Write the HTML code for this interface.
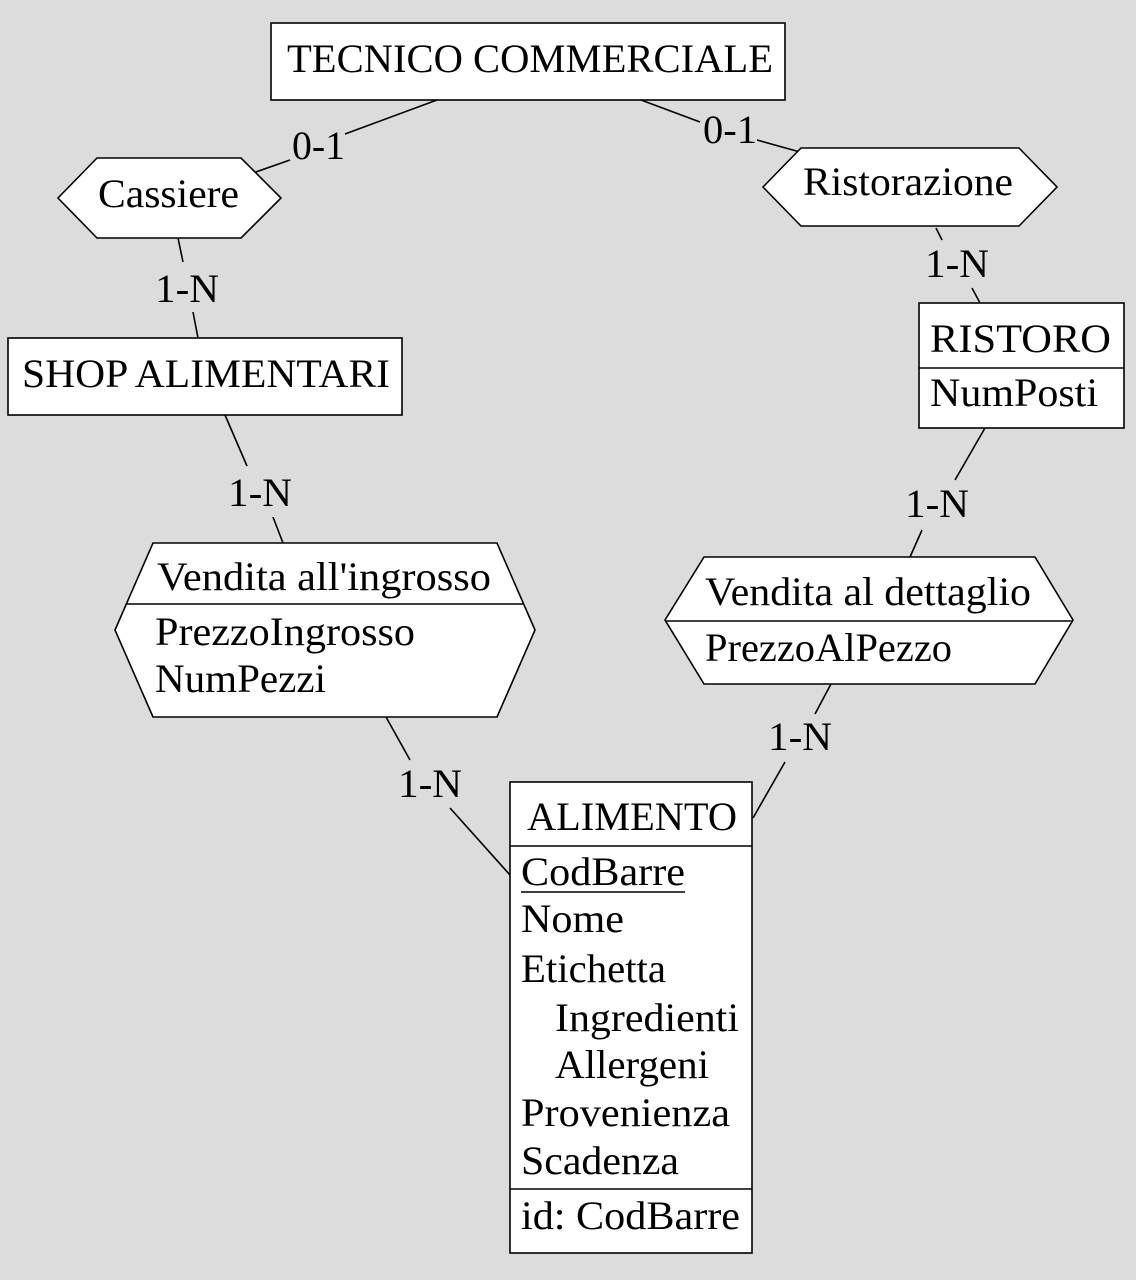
<!DOCTYPE html>
<html><head><meta charset="utf-8"><style>
html,body{margin:0;padding:0;background:#dcdcdc;}
svg{display:block;}
text{font-family:"Liberation Serif",serif;font-size:40px;fill:#000;}
</style></head><body>
<svg width="1136" height="1280" viewBox="0 0 1136 1280" xmlns="http://www.w3.org/2000/svg">
<rect width="1136" height="1280" fill="#dcdcdc"/>
<g stroke="#000" stroke-width="1.6" fill="none">
<line x1="437" y1="100" x2="345" y2="134"/>
<line x1="290" y1="160" x2="250" y2="174"/>
<line x1="641" y1="100" x2="700" y2="122"/>
<line x1="757" y1="140" x2="800" y2="152"/>
<line x1="178" y1="238" x2="183" y2="262"/>
<line x1="193" y1="312" x2="198" y2="338"/>
<line x1="225" y1="415" x2="247" y2="466"/>
<line x1="273" y1="517" x2="283" y2="543"/>
<line x1="386" y1="717" x2="410" y2="760"/>
<line x1="450" y1="808" x2="510" y2="875"/>
<line x1="936" y1="228" x2="942" y2="240"/>
<line x1="972" y1="288" x2="980" y2="303"/>
<line x1="985" y1="428" x2="955" y2="480"/>
<line x1="922" y1="530" x2="910" y2="557"/>
<line x1="831" y1="684" x2="815" y2="714"/>
<line x1="785" y1="762" x2="753" y2="818"/>
</g>
<g stroke="#000" stroke-width="1.6" fill="#fff">
<rect x="271" y="23" width="514" height="77"/>
<polygon points="58,198 97,158 241,158 281,198 241,238 97,238"/>
<polygon points="763,187 801,148 1019,148 1057,187 1019,226 801,226"/>
<rect x="8" y="338" width="394" height="77"/>
<polygon points="115,630 153,543 497,543 535,630 497,717 153,717"/>
<rect x="919" y="303" width="205" height="125"/>
<polygon points="665,620 704,557 1035,557 1073,620 1035,684 704,684"/>
<rect x="510" y="782" width="242" height="471"/>
</g>
<g stroke="#000" stroke-width="1.6">
<line x1="127" y1="604" x2="523" y2="604"/>
<line x1="919" y1="368" x2="1124" y2="368"/>
<line x1="665" y1="621" x2="1073" y2="621"/>
<line x1="510" y1="846" x2="752" y2="846"/>
<line x1="510" y1="1189" x2="752" y2="1189"/>
<line x1="521" y1="892" x2="685" y2="892" stroke-width="1.4"/>
</g>
<g lengthAdjust="spacingAndGlyphs">
<text x="287" y="72" textLength="486" lengthAdjust="spacingAndGlyphs">TECNICO COMMERCIALE</text>
<text x="98" y="207" textLength="141" lengthAdjust="spacingAndGlyphs">Cassiere</text>
<text x="803" y="195" textLength="210" lengthAdjust="spacingAndGlyphs">Ristorazione</text>
<text x="22" y="387" textLength="368" lengthAdjust="spacingAndGlyphs">SHOP ALIMENTARI</text>
<text x="157" y="590" textLength="334" lengthAdjust="spacingAndGlyphs">Vendita all'ingrosso</text>
<text x="155" y="645" textLength="260" lengthAdjust="spacingAndGlyphs">PrezzoIngrosso</text>
<text x="155" y="692" textLength="171" lengthAdjust="spacingAndGlyphs">NumPezzi</text>
<text x="930" y="352" textLength="181" lengthAdjust="spacingAndGlyphs">RISTORO</text>
<text x="930" y="406" textLength="168" lengthAdjust="spacingAndGlyphs">NumPosti</text>
<text x="705" y="605" textLength="326" lengthAdjust="spacingAndGlyphs">Vendita al dettaglio</text>
<text x="705" y="661" textLength="247" lengthAdjust="spacingAndGlyphs">PrezzoAlPezzo</text>
<text x="527" y="830" textLength="210" lengthAdjust="spacingAndGlyphs">ALIMENTO</text>
<text x="521" y="885" textLength="164" lengthAdjust="spacingAndGlyphs">CodBarre</text>
<text x="521" y="932" textLength="103" lengthAdjust="spacingAndGlyphs">Nome</text>
<text x="521" y="982" textLength="145" lengthAdjust="spacingAndGlyphs">Etichetta</text>
<text x="555" y="1031" textLength="184" lengthAdjust="spacingAndGlyphs">Ingredienti</text>
<text x="555" y="1078" textLength="154" lengthAdjust="spacingAndGlyphs">Allergeni</text>
<text x="521" y="1126" textLength="209" lengthAdjust="spacingAndGlyphs">Provenienza</text>
<text x="521" y="1174" textLength="158" lengthAdjust="spacingAndGlyphs">Scadenza</text>
<text x="521" y="1229" textLength="219" lengthAdjust="spacingAndGlyphs">id: CodBarre</text>
<text x="292" y="159" textLength="53" lengthAdjust="spacingAndGlyphs">0-1</text>
<text x="703" y="143" textLength="54" lengthAdjust="spacingAndGlyphs">0-1</text>
<text x="155" y="302" textLength="64" lengthAdjust="spacingAndGlyphs">1-N</text>
<text x="228" y="506" textLength="64" lengthAdjust="spacingAndGlyphs">1-N</text>
<text x="398" y="797" textLength="64" lengthAdjust="spacingAndGlyphs">1-N</text>
<text x="925" y="277" textLength="64" lengthAdjust="spacingAndGlyphs">1-N</text>
<text x="905" y="517" textLength="64" lengthAdjust="spacingAndGlyphs">1-N</text>
<text x="768" y="750" textLength="64" lengthAdjust="spacingAndGlyphs">1-N</text>
</g>
</svg>
</body></html>
